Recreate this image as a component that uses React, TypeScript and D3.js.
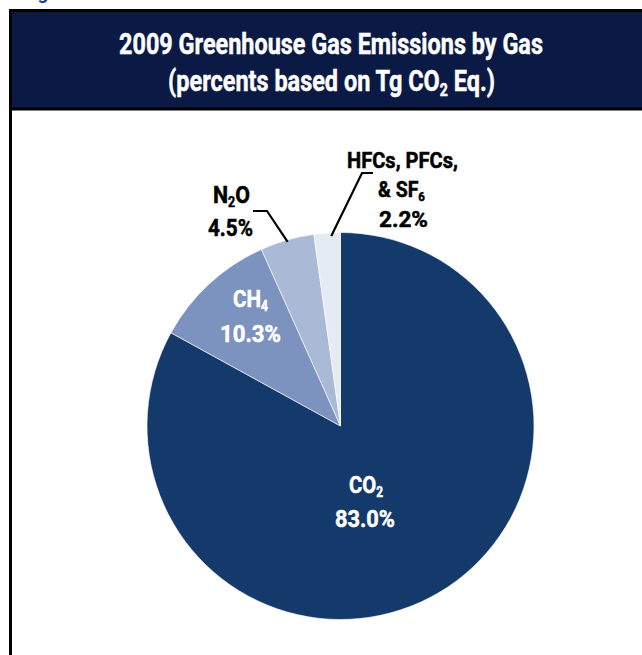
import React, { useLayoutEffect, useRef, useState } from "react";
import * as d3 from "d3";

const gases = ["CO2", "CH4", "N2O", "HFCs"];
const percents = [83.0, 10.3, 4.5, 2.2];
const sliceColors = ["#143A6C", "#7C93C0", "#AABAD6", "#E5EBF4"];

const W = 642;
const H = 655;
const cx = 340.5;
const cy = 426;
const R = 193.5;

const font = "Roboto, 'Liberation Sans', sans-serif";

function Sub({ t, size, dy }: { t: string; size: number; dy: number }) {
  return (
    <tspan fontSize={size} dy={dy}>{t}</tspan>
  );
}

type LabelProps = {
  x: number;
  y: number;
  len: number;
  size: number;
  fill: string;
  children: React.ReactNode;
};

function Label({ x, y, len, size, fill, children }: LabelProps) {
  const ref = useRef<SVGTextElement>(null);
  const [sx, setSx] = useState(1);
  useLayoutEffect(() => {
    if (ref.current) {
      const w = ref.current.getComputedTextLength();
      if (w > 0) setSx(len / w);
    }
  }, [len, size]);
  return (
    <text
      ref={ref}
      transform={`translate(${x},${y}) scale(${sx},1)`}
      textAnchor="middle"
      fontFamily={font}
      fontWeight={700}
      fontSize={size}
      fill={fill}
      stroke={fill}
      strokeWidth={0.5}
    >
      {children}
    </text>
  );
}

export default function App() {
  const data = gases.map((g, i) => ({ gas: g, value: percents[i] }));
  const pie = d3.pie<any>().sort(null).value((d: any) => d.value);
  const arcs = pie(data);
  const arcGen = d3.arc<any>().innerRadius(0).outerRadius(R);

  const edge = (a: any, r: number) => {
    const m = (a.startAngle + a.endAngle) / 2;
    return [cx + Math.sin(m) * r, cy - Math.cos(m) * r];
  };
  const n2oEnd = edge(arcs[2], R - 2);
  const hfcEnd = edge(arcs[3], R - 2);
  const line = d3.line();

  return (
    <svg width={W} height={H} style={{ position: "absolute", left: 0, top: 0 }}>
      <text x={22} y={-1} fontFamily={font} fontWeight={700} fontSize={19} fill="#1F3F8A">Figure ES-4</text>
      <rect x={10.5} y={10.5} width={650} height={700} fill="#fff" stroke="#000" strokeWidth={3} />
      <rect x={12} y={12} width={650} height={96} fill="#0A1A44" />
      <line x1={10} x2={660} y1={109} y2={109} stroke="#000" strokeWidth={3} />

      <Label x={331} y={54} len={424} size={30} fill="#fff">
        2009 Greenhouse Gas Emissions by Gas
      </Label>
      <Label x={331.5} y={91} len={327} size={30} fill="#fff">
        (percents based on Tg CO<Sub t="2" size={18} dy={5} /><tspan dy={-5}> Eq.)</tspan>
      </Label>

      <g transform={`translate(${cx},${cy})`}>
        {arcs.map((a, i) => (
          <path key={gases[i]} d={arcGen(a) as string} fill={sliceColors[i]} stroke="#fff" strokeWidth={0.6} />
        ))}
      </g>

      <path d={line([[253, 211], [267, 211], [n2oEnd[0], n2oEnd[1]]]) as string} fill="none" stroke="#000" strokeWidth={2.2} />
      <path d={line([[373, 173], [362, 173], [hfcEnd[0] + 4, hfcEnd[1] + 1]]) as string} fill="none" stroke="#000" strokeWidth={2.2} />

      <Label x={366} y={493} len={34} size={24} fill="#fff">CO<Sub t="2" size={14} dy={4} /></Label>
      <Label x={365} y={527} len={60} size={24} fill="#fff">{percents[0].toFixed(1)}%</Label>

      <Label x={250.5} y={307} len={35} size={24} fill="#fff">CH<Sub t="4" size={14} dy={4} /></Label>
      <Label x={250.5} y={342} len={61} size={24} fill="#fff">{percents[1].toFixed(1)}%</Label>

      <Label x={231.5} y={203} len={37} size={24} fill="#000">N<Sub t="2" size={14} dy={4} /><tspan dy={-4}>O</tspan></Label>
      <Label x={230.5} y={236} len={45} size={24} fill="#000">{percents[2].toFixed(1)}%</Label>

      <Label x={402.5} y={168} len={111} size={22} fill="#000">HFCs, PFCs,</Label>
      <Label x={401.5} y={197} len={47} size={22} fill="#000">&amp; SF<Sub t="6" size={13} dy={4} /></Label>
      <Label x={403.5} y={227} len={49} size={22} fill="#000">{percents[3].toFixed(1)}%</Label>
    </svg>
  );
}
